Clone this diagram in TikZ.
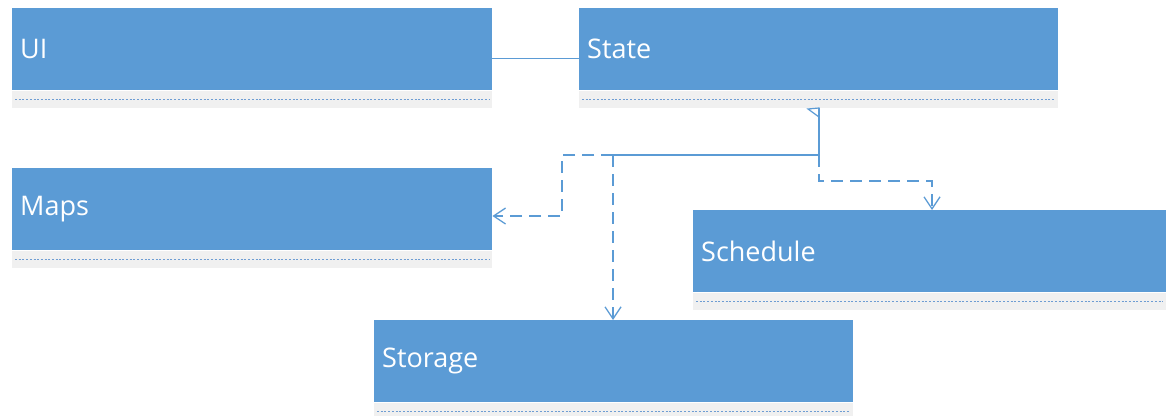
\documentclass[tikz,border=0pt]{standalone}
\usepackage{fontspec}
\setmainfont{Open Sans}
\usetikzlibrary{arrows.meta,calc}
\definecolor{hdrblue}{HTML}{5B9BD5}
\definecolor{bandgrey}{HTML}{F0F0F0}
\definecolor{dotblue}{HTML}{6E9DD3}
\definecolor{linkblue}{HTML}{5B9BD5}
\tikzset{
  hdr/.style={fill=hdrblue, draw=none, anchor=north west, minimum height=82pt,
    inner xsep=8pt, inner ysep=0pt, align=left, text=white,
    font=\fontsize{27}{30}\selectfont},
  band/.style={fill=bandgrey, draw=none, anchor=north west, minimum height=17pt,
    inner sep=0pt},
  dotrule/.style={draw=dotblue, line width=1.2pt, dash pattern=on 2pt off 1.7pt},
  conn/.style={draw=linkblue, line width=1.4pt},
  dep/.style={conn, dash pattern=on 12pt off 7pt,
    -{Straight Barb[length=12pt,width=16pt,line width=1.3pt]}},
}
\newcommand{\classbox}[5]{% name, x, y, width, label
  \node[hdr, text width=#4pt-16pt, minimum width=#4pt] (#1) at (#2,#3) {#5};
  \node[band, minimum width=#4pt] (#1b) at (#1.south west) {};
  \draw[dotrule] ([xshift=3pt]#1b.west) -- ([xshift=-3pt]#1b.east);
}
\begin{document}
\begin{tikzpicture}[x=1pt,y=-1pt]
  \useasboundingbox (0,0) rectangle (1166,415);
  \fill[white] (0,0) rectangle (1166,415);

  \classbox{ui}{12}{8}{480}{UI}
  \classbox{state}{579}{8}{479}{State}
  \classbox{maps}{12}{168}{480}{Maps}
  \classbox{schedule}{693}{210}{473}{Schedule}
  \classbox{storage}{374}{320}{479}{Storage}

  % association between UI and State
  \draw[conn] ([yshift=-9pt]ui.east) -- ([yshift=-9pt]state.west);

  % junction points below State
  \coordinate (s0) at (819,108);
  \coordinate (j1) at (819,155);
  \coordinate (j2) at (613,155);
  \coordinate (m1) at (562,155);
  \coordinate (m2) at (562,216);
  \coordinate (k1) at (819,181);
  \coordinate (k2) at (932,181);

  % small open head at State
  \draw[conn, line width=1.2pt] (808,109) -- (s0) -- (819,117) -- cycle;
  \draw[conn] (s0) -- (j1) -- (j2);

  % dependencies
  \draw[dep] (j2) -- (j2 |- storage.north);
  \draw[dep] (j2) -- (m1) -- (m2) -- (m2 -| maps.east);
  \draw[dep] (j1) -- (k1) -- (k2) -- (k2 |- schedule.north);
\end{tikzpicture}
\end{document}
